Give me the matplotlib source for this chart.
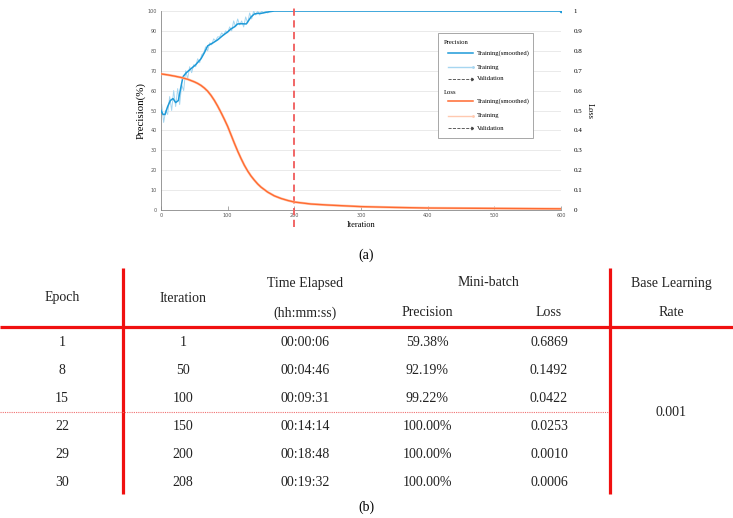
import matplotlib.pyplot as plt
from matplotlib.patches import Rectangle
from matplotlib.lines import Line2D

# ---- chart data (a) ----
prec_smooth_iter = [0, 3, 6, 10, 14, 18, 22, 26, 30, 33, 38, 45, 52, 60, 65, 70, 78, 85, 92,
                    100, 105, 110, 115, 120, 128, 132, 135, 140, 145, 150, 160, 170, 600]
prec_smooth = [50, 48, 48, 52, 55, 56, 54, 55, 62, 67, 69, 71, 73, 76, 79, 82.5, 84, 85.5, 87.5,
               89.5, 91, 92, 93.5, 93.6, 93.5, 95.5, 97, 98.5, 98.8, 98.8, 99.5, 100, 100]

prec_raw_iter = list(range(1, 172, 3)) + [600]
prec_raw = [53, 44, 50, 48, 57, 50, 60, 52, 61, 53,
            63, 60, 70, 66, 72, 69, 73, 72, 76, 74,
            78, 79, 82, 80, 84, 83, 86, 85, 87, 87,
            89, 88, 90, 89, 92, 90, 95, 92, 96, 93,
            95, 92, 97, 94, 99, 96, 100, 98, 100, 98,
            100, 99, 100, 99, 100, 100, 100, 100]

loss_iter = [0, 10, 20, 30, 40, 50, 55, 60, 65, 70, 75, 80, 85, 90, 95, 100, 105, 110, 115,
             120, 125, 130, 135, 140, 145, 150, 160, 170, 180, 190, 200, 225, 250, 300, 350,
             400, 500, 600]
loss_smooth = [0.684, 0.679, 0.673, 0.666, 0.657, 0.644, 0.636, 0.626, 0.613, 0.597, 0.576,
               0.551, 0.522, 0.49, 0.456, 0.42, 0.378, 0.336, 0.296, 0.259, 0.225, 0.196,
               0.171, 0.15, 0.131, 0.115, 0.09, 0.071, 0.058, 0.048, 0.04, 0.03, 0.025,
               0.017, 0.013, 0.010, 0.008, 0.006]

best_iter = 200

# ---- table data (b) ----
epochs = ['1', '8', '15', '22', '29', '30']
iterations = ['1', '50', '100', '150', '200', '208']
times = ['00:00:06', '00:04:46', '00:09:31', '00:14:14', '00:18:48', '00:19:32']
batch_prec = ['59.38%', '92.19%', '99.22%', '100.00%', '100.00%', '100.00%']
batch_loss = ['0.6869', '0.1492', '0.0422', '0.0253', '0.0010', '0.0006']
learning_rate = '0.001'

BLUE = '#1E9AD8'
LIGHT_BLUE = '#A6D6F0'
ORANGE = '#FF6A30'
LIGHT_ORANGE = '#FFC9B0'
RED = '#F01010'
SERIF = 'Liberation Serif'

W, H = 733, 518
fig = plt.figure(figsize=(W / 100, H / 100), dpi=100)

# ---- training progress chart ----
ax = fig.add_axes([161 / W, 1 - 210 / H, 400 / W, 199 / H])
ax.set_xlim(0, 600)
ax.set_ylim(0, 100)
for y in range(10, 101, 10):
    ax.axhline(y, color='#E6E6E6', lw=0.6, zorder=0)
ax.plot(prec_raw_iter, prec_raw, color=LIGHT_BLUE, lw=0.7, zorder=2)
ax.plot(prec_smooth_iter, prec_smooth, color=BLUE, lw=1.1, zorder=3)
ax.plot([prec_smooth_iter[-1]], [prec_smooth[-1]], 'o', color=BLUE, ms=1.5, zorder=3)
ax.axvline(best_iter, ymin=-0.087, ymax=1.03, color='#F05A5A', lw=1.3, ls=(0, (4, 2.5)),
           clip_on=False, zorder=4)

ax.set_xticks(range(0, 601, 100))
ax.set_yticks(range(0, 101, 10))
ax.tick_params(axis='x', direction='in', length=3, width=0.5, color='#888888',
               labelsize=3.5, labelcolor='#555555', pad=2)
ax.tick_params(axis='y', length=0, labelsize=3.5, labelcolor='#555555', pad=3)
for side in ['top', 'right']:
    ax.spines[side].set_visible(False)
for side in ['left', 'bottom']:
    ax.spines[side].set_color('#888888')
    ax.spines[side].set_linewidth(0.6)
ax.set_ylabel('Precision(%)', fontsize=7.8, family=SERIF, labelpad=1)
ax.set_xlabel('Iteration', fontsize=6, family=SERIF, labelpad=2)

ax2 = ax.twinx()
ax2.set_ylim(0, 1)
ax2.set_yticks([i / 10 for i in range(11)])
ax2.set_yticklabels(['0', '0.1', '0.2', '0.3', '0.4', '0.5', '0.6', '0.7', '0.8', '0.9', '1'])
ax2.plot(loss_iter, loss_smooth, color=LIGHT_ORANGE, lw=1.8, zorder=2)
ax2.plot(loss_iter, loss_smooth, color=ORANGE, lw=1.0, zorder=3)
ax2.tick_params(axis='y', length=0, labelsize=5, pad=9)
for lbl in ax2.get_yticklabels():
    lbl.set_family(SERIF)
for s in ax2.spines.values():
    s.set_visible(False)
ax2.set_ylabel('Loss', fontsize=6, family=SERIF, rotation=270, labelpad=8)

# ---- overlay in pixel coordinates: legend, captions, table ----
ov = fig.add_axes([0, 0, 1, 1])
ov.set_xlim(0, W)
ov.set_ylim(H, 0)
ov.axis('off')

ov.add_patch(Rectangle((438, 33), 95, 105, facecolor='white', edgecolor='#999999', lw=0.6))
leg_items = [
    ('Precision', None, 42),
    ('Training(smoothed)', dict(color=BLUE, lw=1.1), 53),
    ('Training', dict(color=LIGHT_BLUE, lw=1.0, marker='.', ms=2), 67),
    ('Validation', dict(color='#444444', lw=0.6, ls='--', marker=5, ms=2), 79),
    ('Loss', None, 92),
    ('Training(smoothed)', dict(color=ORANGE, lw=1.1), 101),
    ('Training', dict(color=LIGHT_ORANGE, lw=1.0, marker='.', ms=2), 116),
    ('Validation', dict(color='#444444', lw=0.6, ls='--', marker=5, ms=2), 128),
]
for label, style, y in leg_items:
    if style is None:
        ov.text(444, y, label, fontsize=4.8, family=SERIF, va='center', ha='left')
    else:
        ov.add_line(Line2D([448, 473], [y, y], markevery=[1], **style))
        ov.text(477, y, label, fontsize=4.8, family=SERIF, va='center', ha='left')

ov.text(366, 255, '(a)', fontsize=10, family=SERIF, ha='center', va='center')
ov.text(366, 507, '(b)', fontsize=10, family=SERIF, ha='center', va='center')

# table lines
ov.plot([0, W], [327, 327], color=RED, lw=2.3, solid_capstyle='butt')
ov.plot([122.7, 122.7], [268, 494], color=RED, lw=2.3, solid_capstyle='butt')
ov.plot([609.5, 609.5], [268, 494], color=RED, lw=2.3, solid_capstyle='butt')
ov.plot([0, 609], [412, 412], color='#F07070', lw=0.8, ls=(0, (1, 1)))

txt = dict(fontsize=10, family=SERIF, color='#222222', ha='center', va='center')
ov.text(62, 298, 'Epoch', **txt)
ov.text(183, 298, 'Iteration', **txt)
ov.text(305, 284, 'Time Elapsed', **txt)
ov.text(305, 313, '(hh:mm:ss)', **txt)
ov.text(488, 283, 'Mini-batch', **txt)
ov.text(427, 313, 'Precision', **txt)
ov.text(549, 313, 'Loss', **txt)
ov.text(671, 284, 'Base Learning', **txt)
ov.text(671, 312, 'Rate', **txt)

row_y = [343, 370, 398, 426, 454, 482]
columns = [(62, epochs), (183, iterations), (305, times), (427, batch_prec), (549, batch_loss)]
for x, values in columns:
    for y, v in zip(row_y, values):
        ov.text(x, y, v, **txt)
ov.text(671, 413, learning_rate, **txt)

fig.savefig('out.png', dpi=100)
